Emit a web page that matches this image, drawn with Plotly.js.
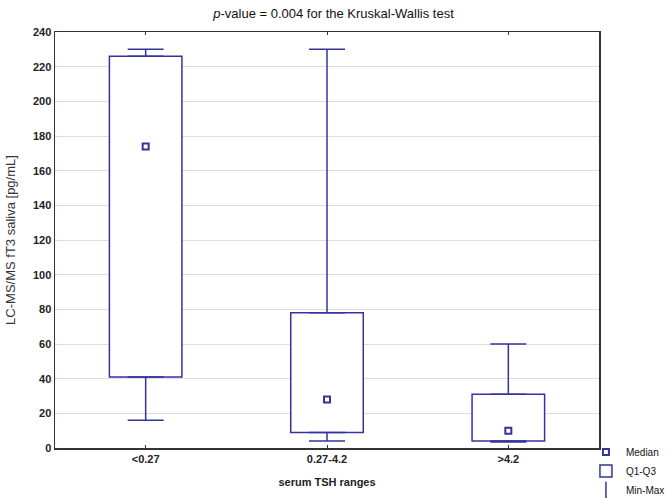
<!DOCTYPE html>
<html>
<head>
<meta charset="utf-8">
<script src="https://cdn.plot.ly/plotly-3.0.1.min.js"></script>
<style>
  html, body { margin: 0; padding: 0; background: #fff; }
  #chart { width: 667px; height: 498px; }
</style>
</head>
<body>
<div id="chart"></div>
<script>
// serum TSH groups and the box summaries
var groups = ['<0.27', '0.27-4.2', '>4.2'];
var minVals = [16, 4, 3.5];
var q1Vals = [41, 9, 4];
var medianVals = [174, 28, 10];
var q3Vals = [226, 78, 31];
var maxVals = [230, 230, 60];

var blue = '#34349c';

var boxHeights = [];
var upWhisker = [];
var downWhisker = [];
var zeros = [];
for (var i = 0; i < groups.length; i++) {
  boxHeights.push(q3Vals[i] - q1Vals[i]);
  upWhisker.push(maxVals[i] - q3Vals[i]);
  downWhisker.push(q1Vals[i] - minVals[i]);
  zeros.push(0);
}

var traces = [
  {
    type: 'bar',
    x: groups,
    y: boxHeights,
    base: q1Vals,
    width: 0.4,
    name: 'Q1-Q3',
    legendrank: 2,
    marker: { color: '#ffffff', line: { color: blue, width: 1.5 } },
    hoverinfo: 'skip'
  },
  {
    // upper whiskers; the marker only serves the legend icon
    type: 'scatter',
    mode: 'markers',
    x: groups,
    y: q3Vals,
    name: 'Min-Max',
    legendrank: 3,
    marker: { symbol: 'line-ns-open', size: 12, color: blue, line: { color: blue, width: 1.5 } },
    selectedpoints: [],
    unselected: { marker: { opacity: 0 } },
    error_y: { type: 'data', symmetric: false, array: upWhisker, arrayminus: zeros,
               color: blue, thickness: 1.5, width: 18 },
    hoverinfo: 'skip'
  },
  {
    // lower whiskers
    type: 'scatter',
    mode: 'markers',
    x: groups,
    y: q1Vals,
    showlegend: false,
    marker: { size: 1, color: 'rgba(0,0,0,0)' },
    error_y: { type: 'data', symmetric: false, array: zeros, arrayminus: downWhisker,
               color: blue, thickness: 1.5, width: 18 },
    hoverinfo: 'skip'
  },
  {
    type: 'scatter',
    mode: 'markers',
    x: groups,
    y: medianVals,
    name: 'Median',
    legendrank: 1,
    marker: { symbol: 'square-open', size: 6, color: blue, line: { color: blue, width: 2 } },
    hoverinfo: 'skip'
  }
];

var layout = {
  width: 667,
  height: 498,
  paper_bgcolor: '#ffffff',
  plot_bgcolor: '#ffffff',
  font: { family: 'Arial, "Liberation Sans", sans-serif', size: 11, color: '#222' },
  title: {
    text: '<i>p</i>-value = 0.004 for the Kruskal-Wallis test',
    x: 0.5,
    xanchor: 'center',
    y: 0.972,
    yanchor: 'middle',
    font: { size: 13, color: '#111' }
  },
  barmode: 'overlay',
  showlegend: true,
  legend: {
    x: 0.976,
    xanchor: 'left',
    y: 0.025,
    yanchor: 'top',
    font: { size: 10, color: '#111' },
    bgcolor: 'rgba(0,0,0,0)',
    tracegroupgap: 0,
    itemwidth: 30
  },
  xaxis: {
    type: 'category',
    range: [-0.5, 2.5],
    showline: true,
    linecolor: '#333',
    linewidth: 1.5,
    mirror: 'ticks',
    ticks: 'inside',
    ticklen: 3,
    tickcolor: '#333',
    showgrid: false,
    tickfont: { size: 11, weight: 'bold', color: '#222' },
    title: { text: 'serum TSH ranges', font: { size: 11, weight: 'bold', color: '#222' }, standoff: 14 }
  },
  yaxis: {
    range: [0, 240],
    dtick: 20,
    showline: true,
    linecolor: '#333',
    linewidth: 1.5,
    mirror: true,
    ticks: '',
    showgrid: true,
    gridcolor: '#dcdcdc',
    gridwidth: 1,
    zeroline: false,
    tickfont: { size: 11, weight: 'bold', color: '#222' },
    title: { text: 'LC-MS/MS fT3 saliva [pg/mL]', font: { size: 13, color: '#333' }, standoff: 14 }
  },
  margin: { l: 55, r: 68, t: 32, b: 50, autoexpand: false }
};

Plotly.newPlot('chart', traces, layout, { displayModeBar: false, staticPlot: true });
</script>
</body>
</html>
